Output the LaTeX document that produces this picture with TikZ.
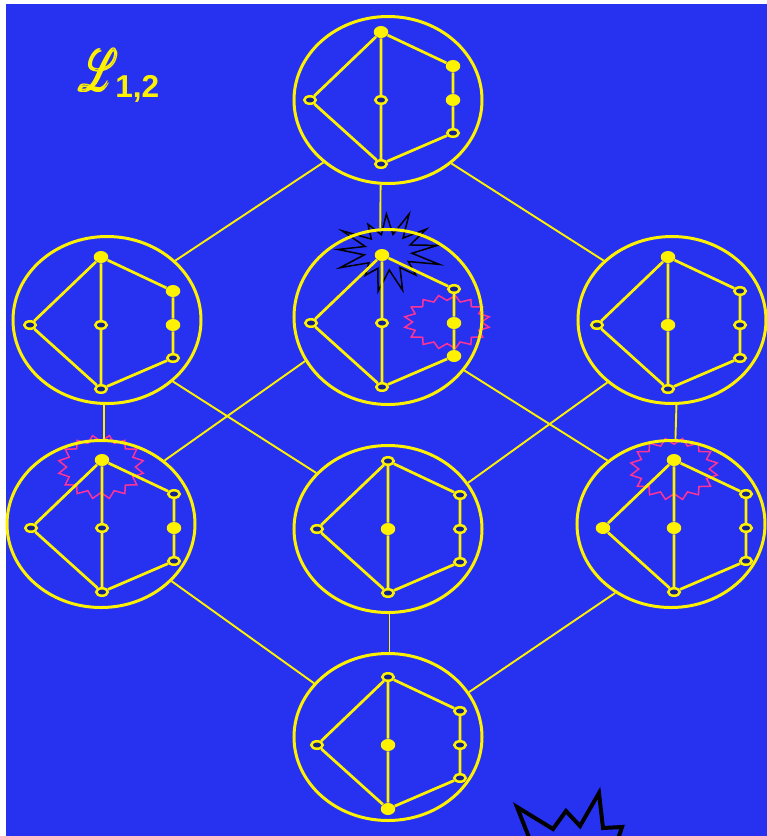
\documentclass[tikz,border=0pt]{standalone}
\usepackage{amsmath}
\usepackage{graphicx}
\usepackage{fontspec}
\setsansfont{Liberation Sans}
\usepackage{mathrsfs}
\usetikzlibrary{shapes.geometric}

\definecolor{bgblue}{RGB}{38,50,240}
\definecolor{holeblue}{RGB}{22,34,140}
\definecolor{zigpink}{RGB}{255,51,150}

\newcommand{\hgraph}[9]{%
  \begin{scope}[shift={#2}]
    \node[#3] (#1-t) at (0,-68) {};
    \node[#4] (#1-l) at (-71,0) {};
    \node[#5] (#1-m) at (0,0) {};
    \node[#6] (#1-b) at (0,64) {};
    \node[#7] (#1-a) at (72,-34) {};
    \node[#8] (#1-c) at (72,0) {};
    \node[#9] (#1-d) at (72,33) {};
    \draw[gedge] (#1-t) -- (#1-l) -- (#1-b) -- (#1-m) -- (#1-t) -- (#1-a) -- (#1-c) -- (#1-d) -- (#1-b);
  \end{scope}}

\newcommand{\zigring}[4]{%
  \draw[zig] plot[domain=0:360, samples=33, variable=\t]
    ({#1+#3*(1-0.2*abs(mod(\t,22.5)-11.25)/11.25)*cos(\t)},
     {#2+#4*(1-0.2*abs(mod(\t,22.5)-11.25)/11.25)*sin(\t)}) -- cycle;}

\begin{document}
\begin{tikzpicture}[x=0.2mm, y=-0.2mm,
  ring/.style={ellipse, draw=yellow, line width=0.6mm, minimum width=37.6mm, minimum height=33.4mm, inner sep=0},
  vopen/.style={ellipse, draw=yellow, fill=holeblue, line width=0.5mm, minimum width=2.3mm, minimum height=1.5mm, inner sep=0},
  vfull/.style={ellipse, fill=yellow, minimum width=2.9mm, minimum height=2.4mm, inner sep=0},
  gedge/.style={yellow, line width=0.55mm},
  link/.style={yellow, line width=0.38mm},
  zig/.style={zigpink, line width=0.3mm},
  burst/.style={black, line width=0.3mm, line join=miter}]
  \useasboundingbox (0,0) rectangle (767,836);
  \fill[bgblue] (6,4) rectangle (767,836);
  \clip (0,0) rectangle (767,836);

  \node[text=yellow, anchor=base west, inner sep=0] (lname) at (79,91)
    {\fontsize{36}{36}\selectfont\scalebox{0.85}[1.33]{$\pmb{\mathscr{L}}$}};
  \node[text=yellow, anchor=base west, inner sep=0] (lsub) at (115,97)
    {\fontsize{18}{18}\selectfont\sffamily\bfseries 1,2};

  \draw[burst, shift={(388,252)}] (-65:50 and 42) -- (-51:24 and 18) -- (-37:48 and 38) -- (-23:24 and 18)
    -- (-10:50 and 38) -- (4:24 and 18) -- (18:54 and 40) -- (32:24 and 18) -- (46:40 and 32) -- (60:24 and 18)
    -- (73:50 and 40) -- (87:24 and 18) -- (101:52 and 40) -- (115:24 and 18) -- (129:36 and 30) -- (143:24 and 18)
    -- (157:52 and 40) -- (171:24 and 18) -- (184:50 and 36) -- (198:24 and 18) -- (212:54 and 40) -- (226:24 and 18)
    -- (240:40 and 32) -- (254:24 and 18) -- (268:46 and 38) -- (282:24 and 18) -- cycle;
  \draw[burst, line width=0.8mm] (517,807) -- (553,829) -- (566,811) -- (580,826) -- (599,793) -- (603,828)
    -- (622,827) -- (615,848) -- (655,870) -- (600,900) -- (540,905) -- (490,870) -- (532,845) -- cycle;
  \zigring{447}{322}{43}{27}
  \zigring{101}{467}{43}{32}
  \zigring{674}{469}{44}{31}

  \node[ring] (top) at (388,100) {};
  \node[ring] (upl) at (107,320) {};
  \node[ring, minimum height=35mm] (upm) at (388,317) {};
  \node[ring] (upr) at (672,320) {};
  \node[ring] (lowl) at (101,524) {};
  \node[ring] (lowm) at (388,529) {};
  \node[ring] (lowr) at (671,524) {};
  \node[ring] (bot) at (388,737) {};

  \draw[link] (top.224) -- (upl.41);
  \draw[link] (top.265) -- (upm.95);
  \draw[link] (top.315) -- (upr.139);
  \draw[link] (upl.268) -- (lowl.88);
  \draw[link] (upl.317) -- (lowm.142);
  \draw[link] (upm.208) -- (lowl.45);
  \draw[link] (upm.325) -- (lowr.135);
  \draw[link] (upr.224) -- (lowm.30);
  \draw[link] (upr.273) -- (lowr.87);
  \draw[link] (lowl.321) -- (bot.144);
  \draw[link] (lowm.271) -- (bot.89);
  \draw[link] (lowr.231) -- (bot.29);

  \hgraph{gtop}{(381,100)}{vfull}{vopen}{vopen}{vopen}{vfull}{vfull}{vopen}
  \hgraph{gupl}{(101,325)}{vfull}{vopen}{vopen}{vopen}{vfull}{vfull}{vopen}
  \hgraph{gupm}{(382,323)}{vfull}{vopen}{vopen}{vopen}{vopen}{vfull}{vfull}
  \hgraph{gupr}{(668,325)}{vfull}{vopen}{vfull}{vopen}{vopen}{vopen}{vopen}
  \hgraph{glowl}{(102,528)}{vfull}{vopen}{vopen}{vopen}{vopen}{vfull}{vopen}
  \hgraph{glowm}{(388,529)}{vopen}{vopen}{vfull}{vopen}{vopen}{vopen}{vopen}
  \hgraph{glowr}{(674,528)}{vfull}{vfull}{vfull}{vopen}{vopen}{vopen}{vopen}
  \hgraph{gbot}{(388,745)}{vopen}{vopen}{vfull}{vfull}{vopen}{vopen}{vopen}
\end{tikzpicture}
\end{document}
